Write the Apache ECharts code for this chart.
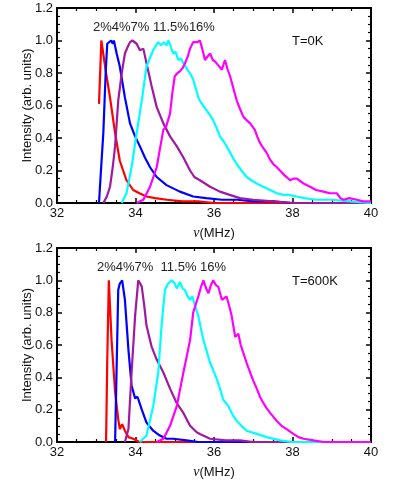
<!DOCTYPE html>
<html>
<head>
<meta charset="utf-8">
<script src="https://cdn.jsdelivr.net/npm/echarts@6/dist/echarts.min.js"></script>
<style>
  html, body { margin: 0; padding: 0; background: #fff; }
  #myChart { width: 395px; height: 480px; }
</style>
</head>
<body>
<div id="myChart"></div>
<script>
// 轴刻度
var xTicks = [32, 34, 36, 38, 40];
var yTicks = [0.0, 0.2, 0.4, 0.6, 0.8, 1.0, 1.2];
var concLabels = ['2%', '4%', '7%', '11.5%', '16%'];
var tempLabels = ['T=0K', 'T=600K'];
var colors = ['#ff0000', '#0000ff', '#a01aa0', '#00ffff', '#ff00ff'];

// T=0K  [频率 MHz, 强度]
var red0 = [[33.07,0.61],[33.13,1.0],[33.17,0.99],[33.25,0.8],[33.35,0.65],[33.48,0.43],[33.6,0.26],[33.77,0.14],[33.94,0.08],[34.1,0.06],[34.28,0.04],[34.5,0.03],[34.8,0.02],[35.2,0.01],[35.6,0.01],[36.0,0],[40,0]];
var blue0 = [[33.07,0],[33.12,0.2],[33.18,0.43],[33.24,0.8],[33.28,0.98],[33.33,0.99],[33.38,1.0],[33.42,0.98],[33.45,1.0],[33.52,0.92],[33.6,0.84],[33.73,0.65],[33.86,0.49],[33.99,0.41],[34.11,0.35],[34.24,0.28],[34.37,0.22],[34.54,0.16],[34.79,0.11],[35.13,0.07],[35.47,0.04],[35.8,0.03],[36.2,0.02],[36.6,0.02],[37.0,0.01],[37.5,0.01],[38,0],[40,0]];
var purple0 = [[33.18,0],[33.27,0.04],[33.35,0.1],[33.42,0.22],[33.48,0.35],[33.56,0.63],[33.65,0.8],[33.73,0.92],[33.8,0.96],[33.86,0.99],[33.92,1.0],[33.97,0.99],[34.03,0.98],[34.11,0.94],[34.2,0.95],[34.28,0.86],[34.41,0.72],[34.54,0.59],[34.71,0.49],[34.88,0.41],[35.05,0.35],[35.22,0.28],[35.39,0.2],[35.5,0.16],[35.64,0.14],[35.9,0.1],[36.15,0.07],[36.4,0.05],[36.66,0.03],[37.0,0.02],[37.5,0.01],[38,0],[40,0]];
var cyan0 = [[33.65,0],[33.77,0.06],[33.9,0.22],[34.03,0.43],[34.16,0.63],[34.28,0.84],[34.38,0.9],[34.45,0.94],[34.52,0.97],[34.58,0.99],[34.65,0.97],[34.72,0.99],[34.79,0.97],[34.84,1.0],[34.9,0.96],[34.96,0.92],[35.02,0.93],[35.09,0.88],[35.15,0.89],[35.22,0.86],[35.3,0.83],[35.35,0.81],[35.41,0.79],[35.47,0.76],[35.6,0.65],[35.64,0.63],[35.72,0.6],[35.81,0.57],[35.9,0.54],[35.98,0.51],[36.07,0.46],[36.15,0.41],[36.24,0.38],[36.32,0.35],[36.41,0.31],[36.5,0.27],[36.58,0.24],[36.7,0.2],[36.83,0.16],[36.95,0.14],[37.09,0.12],[37.25,0.1],[37.43,0.08],[37.6,0.06],[37.77,0.05],[37.9,0.05],[38.1,0.04],[38.3,0.03],[38.6,0.02],[39.0,0.02],[39.47,0.01],[40,0]];
var magenta0 = [[34.03,0],[34.2,0.02],[34.37,0.1],[34.54,0.22],[34.62,0.33],[34.67,0.33],[34.71,0.45],[34.78,0.47],[34.88,0.55],[34.94,0.68],[35.0,0.78],[35.07,0.8],[35.13,0.81],[35.2,0.83],[35.26,0.86],[35.33,0.9],[35.39,0.95],[35.47,0.99],[35.52,1.0],[35.58,0.99],[35.64,1.0],[35.7,0.95],[35.77,0.88],[35.83,0.9],[35.9,0.92],[35.97,0.88],[36.03,0.87],[36.1,0.85],[36.2,0.82],[36.28,0.88],[36.35,0.82],[36.41,0.78],[36.5,0.7],[36.58,0.63],[36.66,0.58],[36.75,0.53],[36.83,0.51],[36.92,0.49],[37.04,0.45],[37.1,0.41],[37.17,0.37],[37.25,0.34],[37.34,0.31],[37.42,0.27],[37.51,0.24],[37.6,0.22],[37.68,0.2],[37.8,0.17],[37.94,0.14],[38.02,0.15],[38.11,0.15],[38.28,0.12],[38.45,0.1],[38.6,0.08],[38.79,0.07],[38.95,0.06],[39.13,0.06],[39.22,0.03],[39.3,0.02],[39.45,0.03],[39.64,0.02],[39.8,0.01],[40,0.01]];

// T=600K
var red1 = [[33.25,0],[33.28,0.5],[33.32,1.0],[33.39,0.63],[33.48,0.31],[33.56,0.14],[33.6,0.08],[33.66,0.11],[33.73,0.07],[33.82,0.03],[33.94,0.02],[34.1,0],[40,0]];
var blue1 = [[33.48,0],[33.56,0.94],[33.6,0.98],[33.66,1.0],[33.73,0.88],[33.82,0.57],[33.9,0.35],[33.99,0.27],[34.05,0.28],[34.16,0.2],[34.28,0.12],[34.45,0.07],[34.62,0.04],[34.79,0.02],[34.96,0.02],[35.3,0.01],[35.6,0],[40,0]];
var purple1 = [[33.73,0],[33.82,0.08],[33.9,0.43],[33.99,0.78],[34.07,1.0],[34.12,0.98],[34.16,0.96],[34.22,0.85],[34.28,0.72],[34.41,0.59],[34.54,0.51],[34.71,0.43],[34.88,0.33],[35.05,0.24],[35.22,0.18],[35.39,0.1],[35.56,0.06],[35.64,0.05],[35.9,0.02],[36.3,0.01],[36.66,0.01],[37,0],[40,0]];
var cyan1 = [[34.11,0],[34.28,0.04],[34.45,0.22],[34.58,0.43],[34.67,0.74],[34.75,0.94],[34.83,0.98],[34.92,1.0],[35.0,0.98],[35.05,0.95],[35.13,0.99],[35.2,0.95],[35.26,0.94],[35.33,0.9],[35.39,0.88],[35.45,0.9],[35.52,0.84],[35.6,0.78],[35.73,0.63],[35.9,0.49],[36.07,0.39],[36.15,0.33],[36.24,0.26],[36.37,0.22],[36.47,0.17],[36.58,0.13],[36.7,0.1],[36.83,0.07],[37.09,0.05],[37.34,0.03],[37.68,0.01],[38,0],[40,0]];
var magenta1 = [[34.54,0],[34.71,0.02],[34.88,0.1],[35.05,0.22],[35.22,0.43],[35.39,0.63],[35.47,0.8],[35.52,0.84],[35.6,0.9],[35.67,0.96],[35.73,1.0],[35.8,0.95],[35.86,0.92],[35.92,0.97],[35.98,1.0],[36.05,0.97],[36.11,0.96],[36.2,0.88],[36.26,0.89],[36.32,0.9],[36.4,0.83],[36.45,0.78],[36.54,0.65],[36.62,0.67],[36.68,0.6],[36.75,0.55],[36.83,0.49],[36.92,0.43],[37.0,0.38],[37.09,0.33],[37.17,0.28],[37.26,0.24],[37.34,0.21],[37.43,0.18],[37.6,0.13],[37.72,0.1],[37.85,0.08],[38.02,0.05],[38.15,0.03],[38.28,0.02],[38.53,0.01],[38.8,0],[40,0]];

var panels = [
	[red0, blue0, purple0, cyan0, magenta0],
	[red1, blue1, purple1, cyan1, magenta1]
];

var font = 'Liberation Sans, Arial, sans-serif';
var gridTops = [8, 248];

function xAxisOf(gridIndex, isTop) {
	return {
		gridIndex: gridIndex,
		type: 'value',
		position: isTop ? 'top' : 'bottom',
		min: xTicks[0],
		max: xTicks[xTicks.length - 1],
		interval: xTicks[1] - xTicks[0],
		axisLine: { onZero: false, lineStyle: { color: '#000', width: 2 } },
		axisTick: { inside: true, length: 5, lineStyle: { color: '#000', width: 1.5 } },
		minorTick: { show: true, splitNumber: 4, length: 3, lineStyle: { color: '#000', width: 1.2 } },
		splitLine: { show: false },
		axisLabel: {
			show: !isTop, color: '#111', fontFamily: font, fontSize: 13, margin: 4
		},
		name: isTop ? '' : '{nu|ν}(MHz)',
		nameLocation: 'middle',
		nameGap: 23,
		nameTextStyle: {
			color: '#111', fontFamily: font, fontSize: 13,
			rich: { nu: { fontFamily: 'Liberation Serif, serif', fontStyle: 'italic', fontSize: 14, color: '#111' } }
		}
	};
}

function yAxisOf(gridIndex, isRight) {
	return {
		gridIndex: gridIndex,
		type: 'value',
		position: isRight ? 'right' : 'left',
		min: yTicks[0],
		max: yTicks[yTicks.length - 1],
		interval: 0.2,
		axisLine: { onZero: false, lineStyle: { color: '#000', width: 2 } },
		axisTick: { inside: true, length: 5, lineStyle: { color: '#000', width: 1.5 } },
		minorTick: { show: true, splitNumber: 4, length: 3, lineStyle: { color: '#000', width: 1.2 } },
		splitLine: { show: false },
		axisLabel: {
			show: !isRight, color: '#111', fontFamily: font, fontSize: 13, margin: 4,
			formatter: function(v) { return v.toFixed(1); }
		},
		name: isRight ? '' : 'Intensity (arb. units)',
		nameLocation: 'middle',
		nameGap: 23,
		nameMoveOverlap: false,
		nameTextStyle: { color: '#111', fontFamily: font, fontSize: 13 }
	};
}

var grids = [], xAxes = [], yAxes = [], series = [], graphics = [];
gridTops.forEach(function(top, g) {
	grids.push({ left: 57, top: top, width: 314, height: 195, containLabel: false });
	xAxes.push(xAxisOf(g, false));
	xAxes.push(xAxisOf(g, true));
	yAxes.push(yAxisOf(g, false));
	yAxes.push(yAxisOf(g, true));
	panels[g].forEach(function(d, k) {
		series.push({
			type: 'line',
			xAxisIndex: g * 2,
			yAxisIndex: g * 2,
			data: d,
			showSymbol: false,
			smooth: false,
			animation: false,
			lineStyle: { color: colors[k], width: 2.2 },
			itemStyle: { color: colors[k] },
			z: 2 + k
		});
	});
	graphics.push({
		type: 'text',
		left: g === 0 ? 93 : 97,
		top: top + 13,
		style: {
			text: g === 0 ? concLabels.slice(0, 3).join('') + ' ' + concLabels[3] + concLabels[4]
				: concLabels.slice(0, 3).join('') + '  ' + concLabels[3] + ' ' + concLabels[4],
			font: '13px ' + font,
			fill: '#222'
		}
	});
	graphics.push({
		type: 'text',
		left: 292,
		top: top + 27,
		style: { text: tempLabels[g], font: '13px ' + font, fill: '#111' }
	});
});

var myChart = echarts.init(document.getElementById('myChart'), null, { renderer: 'canvas' });
myChart.setOption({
	animation: false,
	grid: grids,
	xAxis: xAxes,
	yAxis: yAxes,
	series: series,
	graphic: graphics
});
</script>
</body>
</html>
